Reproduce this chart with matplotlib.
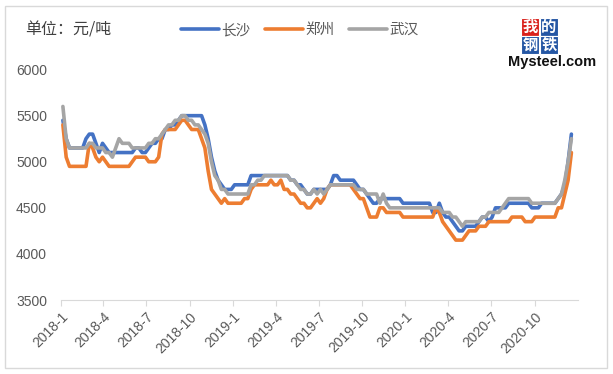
import matplotlib
matplotlib.use("Agg")
import matplotlib.pyplot as plt
import matplotlib.dates as mdates
from matplotlib.patches import Rectangle
import pandas as pd

# weekly prices, yuan/ton, Jan 2018 .. mid Dec 2020
dates = pd.date_range("2018-01-05", periods=155, freq="7D")

changsha = [
    5450, 5250, 5150, 5150, 5150, 5150, 5150, 5250, 5300, 5300,
    5200, 5100, 5200, 5150, 5100, 5100, 5100, 5100, 5100, 5100,
    5100, 5100, 5150, 5150, 5100, 5100, 5150, 5200, 5200, 5250,
    5250, 5350, 5350, 5400, 5400, 5450, 5500, 5500, 5500, 5500,
    5500, 5500, 5500, 5400, 5250, 5050, 4900, 4800, 4750, 4700,
    4700, 4700, 4750, 4750, 4750, 4750, 4750, 4850, 4850, 4850,
    4850, 4850, 4850, 4850, 4850, 4850, 4850, 4850, 4850, 4800,
    4800, 4750, 4750, 4700, 4650, 4650, 4700, 4700, 4700, 4700,
    4700, 4750, 4850, 4850, 4800, 4800, 4800, 4800, 4800, 4750,
    4700, 4700, 4650, 4600, 4550, 4550, 4600, 4600, 4600, 4600,
    4600, 4600, 4600, 4550, 4550, 4550, 4550, 4550, 4550, 4550,
    4550, 4550, 4450, 4450, 4550, 4450, 4400, 4400, 4350, 4300,
    4250, 4250, 4300, 4300, 4300, 4300, 4350, 4400, 4400, 4350,
    4400, 4500, 4500, 4500, 4500, 4550, 4550, 4550, 4550, 4550,
    4550, 4550, 4500, 4500, 4500, 4550, 4550, 4550, 4550, 4550,
    4600, 4650, 4750, 5000, 5300,
]

zhengzhou = [
    5400, 5050, 4950, 4950, 4950, 4950, 4950, 4950, 5200, 5150,
    5050, 5000, 5050, 5000, 4950, 4950, 4950, 4950, 4950, 4950,
    4950, 5000, 5050, 5050, 5050, 5050, 5000, 5000, 5000, 5050,
    5300, 5350, 5350, 5350, 5350, 5400, 5450, 5450, 5400, 5350,
    5350, 5350, 5250, 5150, 4900, 4700, 4650, 4600, 4550, 4600,
    4550, 4550, 4550, 4550, 4550, 4600, 4600, 4700, 4750, 4750,
    4750, 4750, 4750, 4800, 4750, 4750, 4800, 4700, 4700, 4650,
    4650, 4600, 4550, 4550, 4500, 4500, 4550, 4600, 4550, 4600,
    4700, 4750, 4750, 4750, 4750, 4750, 4750, 4750, 4700, 4650,
    4600, 4600, 4500, 4400, 4400, 4400, 4500, 4500, 4450, 4450,
    4450, 4450, 4450, 4400, 4400, 4400, 4400, 4400, 4400, 4400,
    4400, 4400, 4400, 4500, 4450, 4350, 4300, 4250, 4200, 4150,
    4150, 4150, 4200, 4250, 4250, 4250, 4300, 4300, 4300, 4350,
    4350, 4350, 4350, 4350, 4350, 4350, 4400, 4400, 4400, 4400,
    4350, 4350, 4350, 4400, 4400, 4400, 4400, 4400, 4400, 4400,
    4500, 4500, 4650, 4800, 5100,
]

wuhan = [
    5600, 5250, 5150, 5150, 5150, 5150, 5150, 5150, 5200, 5200,
    5150, 5150, 5150, 5100, 5100, 5050, 5150, 5250, 5200, 5200,
    5200, 5150, 5150, 5150, 5150, 5150, 5200, 5200, 5250, 5250,
    5300, 5350, 5400, 5400, 5450, 5450, 5500, 5500, 5450, 5450,
    5400, 5400, 5350, 5300, 5200, 5000, 4850, 4800, 4700, 4700,
    4650, 4650, 4650, 4650, 4650, 4650, 4650, 4750, 4750, 4800,
    4800, 4850, 4850, 4850, 4850, 4850, 4850, 4850, 4850, 4800,
    4800, 4750, 4700, 4700, 4650, 4650, 4700, 4650, 4700, 4650,
    4700, 4750, 4750, 4750, 4750, 4750, 4750, 4750, 4750, 4700,
    4700, 4700, 4650, 4650, 4650, 4650, 4550, 4650, 4550, 4500,
    4500, 4500, 4500, 4500, 4500, 4500, 4500, 4500, 4500, 4500,
    4500, 4500, 4500, 4500, 4500, 4450, 4450, 4450, 4400, 4400,
    4350, 4300, 4350, 4350, 4350, 4350, 4350, 4400, 4400, 4450,
    4450, 4450, 4450, 4500, 4550, 4600, 4600, 4600, 4600, 4600,
    4600, 4600, 4550, 4550, 4550, 4550, 4550, 4550, 4550, 4550,
    4600, 4650, 4800, 5000, 5250,
]

names = ["长沙", "郑州", "武汉"]
colors = ["#4472C4", "#ED7D31", "#A5A5A5"]

tick_dates = pd.date_range("2018-01-01", "2020-10-01", freq="QS")
tick_labels = ["%d-%d" % (d.year, d.month) for d in tick_dates]
y_ticks = [3500, 4000, 4500, 5000, 5500, 6000]

cjk = ["Noto Sans CJK SC", "DejaVu Sans"]
txt = "#595959"

fig = plt.figure(figsize=(6.13, 3.74), dpi=100)
ax = fig.add_axes([61 / 613, 74 / 374, 517 / 613, 230.4 / 374])

for vals, name, c in zip([changsha, zhengzhou, wuhan], names, colors):
    ax.plot(dates, vals, color=c, lw=2.6, label=name, solid_capstyle="round")

ax.set_xlim(pd.Timestamp("2018-01-01"), pd.Timestamp("2021-01-01"))
ax.set_ylim(3500, 6000)
ax.set_yticks(y_ticks)
ax.set_xticks(tick_dates)
ax.set_xticklabels(tick_labels, rotation=45, ha="right", rotation_mode="anchor")

for s in ["top", "right", "left"]:
    ax.spines[s].set_visible(False)
ax.spines["bottom"].set_color("#d9d9d9")
ax.tick_params(axis="y", length=0, pad=10, labelsize=10, labelcolor=txt)
ax.tick_params(axis="x", length=4, color="#d9d9d9", pad=3, labelsize=10, labelcolor=txt)
for lab in ax.get_xticklabels() + ax.get_yticklabels():
    lab.set_family("Liberation Sans")

fig.text(25 / 613, 1 - 30 / 374, "单位：元/吨", family=cjk, fontsize=11.5,
         color="#404040", va="center", ha="left")

leg = fig.legend(loc="center", bbox_to_anchor=(300 / 613, 1 - 30 / 374), ncol=3,
                 frameon=False, prop={"family": cjk, "size": 10.5},
                 handlelength=2.6, handletextpad=0.15, columnspacing=1.0)
for t in leg.get_texts():
    t.set_color(txt)

# logo
boxes = [("我", 530, 27, "#d9211c"), ("的", 549, 27, "#2456a4"),
         ("钢", 530, 45, "#2456a4"), ("铁", 549, 45, "#2456a4")]
for ch, x, y, bg in boxes:
    fig.patches.append(Rectangle(((x - 9) / 613, 1 - (y + 9) / 374), 18 / 613, 18 / 374,
                                 transform=fig.transFigure, facecolor=bg, edgecolor="white", lw=0.8))
    fig.text(x / 613, 1 - y / 374, ch, family=cjk, fontsize=11, color="white",
             fontweight="bold", ha="center", va="center")
fig.text(552 / 613, 1 - 62 / 374, "Mysteel.com", family="Liberation Sans", fontsize=10.5,
         fontweight="bold", color="#111111", ha="center", va="center")

fig.patches.append(Rectangle((5 / 613, 6 / 374), 602 / 613, 362 / 374, transform=fig.transFigure,
                             facecolor="none", edgecolor="#d9d9d9", lw=1))

fig.savefig("out.png", dpi=100)
